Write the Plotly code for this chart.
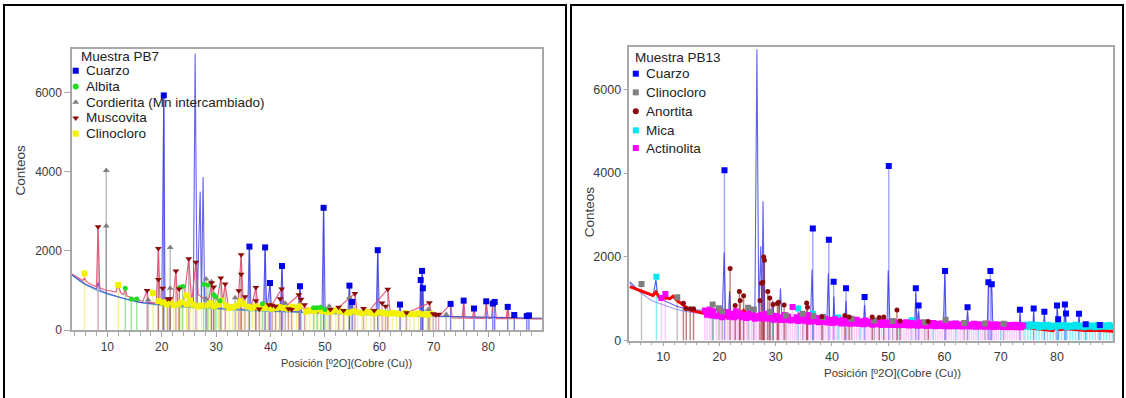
import plotly.graph_objects as go

W, H = 1126, 398

# ---------------- Muestra PB7 ----------------
pb7_cuarzo_x = [20.37, 36.11, 39.0, 39.9, 42.1, 45.4, 49.75, 54.5, 55.0, 59.7, 63.8, 67.6, 67.85, 68.0,
                73.1, 75.5, 77.4, 79.65, 80.85, 81.2, 83.6, 84.8, 87.1, 87.5]
pb7_cuarzo_y = [5930, 2110, 2090, 1190, 1620, 1108, 3090, 1124, 711, 2020, 645, 1265, 1496, 1058,
                662, 744, 545, 727, 670, 711, 587, 380, 356, 372]

pb7_albita_x = [13.3, 14.4, 15.4, 23.25, 23.85, 27.7, 28.5, 29.55, 29.95, 30.7, 38.5, 47.9, 48.55, 49.2, 50.0]
pb7_albita_y = [1060, 786, 786, 1075, 1100, 1157, 1141, 893, 843, 744, 666, 562, 562, 579, 521]

pb7_cordierita_x = [9.8, 9.8, 17.5, 21.55, 21.55, 28.15, 28.15, 29.15, 33.5, 42.7, 50.8, 54.5, 69.0, 72.3]
pb7_cordierita_y = [4030, 2630, 760, 2090, 1058, 1290, 786, 1223, 820, 680, 605, 826, 521, 397]

pb7_muscovita_x = [8.3, 17.3, 19.38, 19.38, 20.17, 21.1, 21.5, 22.6, 23.2, 24.96, 26.27, 29.15, 29.55,
                   30.86, 31.65, 34.15, 34.6, 34.6, 35.3, 37.3, 37.3, 37.9, 39.7, 40.3, 40.9, 41.75,
                   42.05, 43.3, 43.85, 45.2, 45.6, 46.25, 51.0, 52.5, 53.4, 55.5, 57.1, 59.05, 60.5,
                   61.15, 61.55, 65.0, 69.2, 69.9, 70.4, 70.9]
pb7_muscovita_y = [2610, 1000, 2060, 1281, 1058, 790, 790, 1496, 1041, 1800, 1715, 1199, 1091,
                   1315, 1162, 992, 1905, 1410, 843, 1079, 744, 530, 640, 630, 604, 793,
                   1041, 537, 521, 893, 780, 640, 521, 579, 496, 926, 545, 496, 686,
                   604, 1033, 438, 694, 410, 390, 400]

pb7_clinocloro_x = [5.8, 12.0, 18.4, 19.4, 20.2, 20.9, 21.5, 22.2, 23.0, 23.6, 24.6, 24.6, 25.2, 25.8,
                    26.6, 27.3, 28.4, 29.0, 29.6, 30.4, 31.0, 31.8, 32.4, 33.05, 33.8, 34.4, 35.0,
                    35.9, 36.6, 37.2, 38.0, 38.8, 39.4, 40.2, 41.0, 41.6, 42.4, 43.2, 44.0, 44.8,
                    45.3, 46.5, 47.2, 48.0, 48.7, 49.4, 50.4, 51.2, 52.0, 52.7, 53.6, 54.4, 55.2,
                    56.0, 56.8, 57.6, 58.4, 59.2, 60.0, 60.8, 61.6, 62.4, 63.2, 64.0, 64.8, 65.6,
                    66.4, 67.2, 68.0, 68.8, 69.4]
pb7_clinocloro_y = [1430, 1140, 935, 730, 700, 650, 700, 630, 650, 700, 875, 650, 745, 640,
                    600, 620, 620, 680, 600, 650, 745, 620, 560, 580, 620, 730, 660,
                    590, 560, 600, 570, 560, 600, 540, 560, 580, 560, 540, 590, 560,
                    600, 465, 500, 480, 520, 480, 460, 470, 500, 480, 460, 440, 470,
                    450, 430, 460, 440, 420, 450, 430, 410, 430, 420, 400, 430, 410,
                    400, 420, 400, 390, 410]

# profile (calculated), measured scan and background of PB7
pb7_calc_x = [3.5, 4.5, 5.5, 5.8, 6.1, 7.0, 8.0, 8.3, 8.6, 9.5, 10.5, 11.6, 12.0, 12.4, 13.0, 13.3,
              13.6, 15.0, 16.5, 17.3, 17.6, 19.0, 19.38, 19.7, 20.2, 21.0, 22.0, 22.6, 22.9, 24.0,
              24.96, 25.5, 26.27, 26.7, 27.5, 28.2, 28.7, 29.15, 29.6, 30.2, 30.86, 31.2, 31.65,
              32.2, 34.0, 34.6, 35.0, 36.5, 37.3, 37.7, 40.0, 42.05, 42.5, 45.2, 45.6, 48.0, 52.0,
              55.5, 55.9, 58.0, 61.55, 62.0, 65.0, 69.2, 69.6, 71.0, 73.1, 73.4, 75.2, 75.5, 75.8,
              77.1, 77.4, 77.7, 79.4, 79.65, 80.0, 80.6, 80.85, 81.2, 81.5, 83.3, 83.6, 83.9, 84.6,
              84.8, 85.1, 86.8, 87.1, 87.5, 87.8, 90.0]
pb7_calc_y = [1420, 1330, 1250, 1320, 1230, 1150, 1100, 2610, 1070, 1020, 990, 960, 1180, 950, 900, 1060,
              860, 790, 720, 1000, 700, 680, 2060, 700, 760, 720, 690, 1496, 720, 700,
              1800, 700, 1715, 900, 820, 780, 800, 1199, 850, 760, 1315, 720, 1162,
              640, 620, 1905, 640, 600, 1079, 600, 580, 1041, 560, 893, 560, 540, 510,
              926, 490, 470, 1033, 450, 430, 686, 400, 340, 662, 310, 300, 744, 300,
              298, 545, 296, 295, 727, 294, 293, 670, 711, 292, 291, 587, 290, 289,
              380, 288, 287, 356, 372, 285, 280]

pb7_meas_x = [3.5, 6.0, 8.0, 8.3, 8.7, 10.0, 13.0, 16.0, 20.0, 20.37, 20.6, 25.8, 26.14, 26.5, 27.06,
              27.3, 27.6, 27.9, 30.0, 35.8, 36.11, 36.4, 38.7, 39.0, 39.3, 39.9, 40.2, 41.8, 42.1,
              42.4, 45.1, 45.4, 45.7, 49.45, 49.75, 50.05, 54.2, 54.5, 54.75, 55.0, 55.3, 59.4, 59.7,
              60.0, 63.6, 63.8, 64.0, 67.4, 67.6, 67.75, 67.85, 68.0, 68.2, 90.0]
pb7_meas_y = [1390, 1160, 1040, 1200, 1000, 930, 800, 700, 640, 5930, 640, 600, 6990, 620, 3500,
              650, 3870, 600, 560, 520, 2110, 510, 500, 2090, 500, 1190, 490, 480, 1620,
              480, 460, 1108, 455, 430, 3090, 430, 410, 1124, 410, 711, 405, 390, 2020,
              390, 375, 645, 375, 360, 1265, 380, 1496, 1058, 355, 300]

pb7_fondo_x = [3.5, 5, 6.5, 8, 10, 12, 14, 16, 18, 20, 23, 26, 30, 35, 40, 45, 50, 55, 60, 65, 70, 75, 80, 85, 90]
pb7_fondo_y = [1390, 1230, 1110, 1010, 910, 830, 760, 700, 655, 620, 585, 560, 530, 500, 470, 445,
               420, 400, 380, 360, 345, 325, 310, 300, 290]

# ---------------- Muestra PB13 ----------------
pb13_cuarzo_x = [20.9, 36.6, 39.45, 40.3, 42.5, 45.8, 50.1, 54.9, 55.4, 60.1, 64.1, 67.8, 68.15, 68.4,
                 73.4, 75.85, 77.75, 80.0, 80.2, 81.4, 81.6, 83.9, 85.1, 87.6]
pb13_cuarzo_y = [4070, 2675, 2410, 1408, 1253, 1042, 4170, 1253, 838, 1659, 798, 1394, 1659, 1347,
                 737, 767, 690, 838, 509, 861, 650, 643, 392, 375]

pb13_clinocloro_x = [6.15, 12.5, 18.8, 19.9, 20.5, 25.1, 26.1, 29.0, 31.8, 34.8, 36.7, 38.4, 43.5, 47.5,
                     50.8, 56.5, 60.2, 63.5, 67.2, 70.5]
pb13_clinocloro_y = [1350, 1035, 860, 770, 700, 785, 745, 680, 600, 640, 590, 565, 520, 480,
                     470, 440, 495, 420, 410, 400]

pb13_anortita_x = [13.6, 14.1, 14.8, 15.4, 21.9, 22.8, 23.55, 23.7, 24.3, 27.2, 27.5, 27.7, 27.87, 28.0,
                   28.6, 28.95, 29.55, 30.3, 30.5, 31.5, 35.5, 35.65, 38.2, 42.3, 43.05, 47.15, 48.4,
                   49.2, 51.55, 52.1, 57.1]
pb13_anortita_y = [890, 767, 760, 760, 1722, 838, 1173, 955, 1072, 955, 1370, 1394, 1994, 1917,
                   1173, 1018, 861, 885, 915, 850, 900, 798, 572, 600, 563, 563, 549,
                   563, 728, 470, 455]

pb13_mica_x = [8.8, 18.9, 29.45, 34.0, 36.6, 41.1, 45.0, 51.7, 54.15, 58.0, 62.0, 66.0, 70.0,
               74.3, 74.8, 75.3, 75.8, 76.3, 76.8, 77.3, 77.8, 78.3, 78.8, 79.3, 79.8, 80.3, 80.8,
               81.3, 81.8, 82.3, 82.8, 83.3, 83.8, 84.3, 84.8, 85.3, 85.8, 86.3, 86.8, 87.3, 87.8,
               88.3, 88.8, 89.3, 89.8]
pb13_mica_y = [1525, 665, 590, 765, 640, 550, 450, 400, 485, 420, 400, 390, 380,
               380, 330, 390, 340, 380, 320, 370, 330, 380, 320, 360, 330, 380, 340,
               370, 320, 360, 330, 380, 330, 360, 320, 370, 330, 360, 320, 370, 330,
               360, 330, 370, 340]

# actinolite reflections: upper row of the band and the lower row beneath it
pb13_actinolita_x = [9.7, 10.4, 17.4, 18.3, 18.9, 20.1, 21.0, 21.4, 22.3, 22.9, 23.6, 24.4, 25.3, 26.0,
                     26.6, 27.4, 28.4, 29.2, 30.1, 30.7, 31.5, 32.2, 33.0, 33.7, 34.4, 35.1, 35.8,
                     36.5, 37.3, 38.0, 38.8, 39.7, 40.5, 41.3, 42.0, 42.8, 43.6, 44.4, 45.2, 46.0,
                     46.8, 47.6, 48.4, 49.2, 50.0, 50.8, 51.6, 52.4, 53.2, 54.0, 54.8, 55.6, 56.4,
                     57.2, 58.0, 58.8, 59.6, 60.4, 61.2, 62.0, 62.8, 63.6, 64.4, 65.2, 66.0, 66.8,
                     67.6, 68.4, 69.2, 70.0, 70.8, 71.6, 72.4, 73.2, 74.0]
pb13_actinolita_y = [1020, 1115, 720, 745, 700, 640, 665, 680, 640, 700, 650, 620, 665, 680,
                     590, 620, 640, 600, 590, 560, 610, 570, 800, 560, 600, 560, 610,
                     520, 540, 500, 520, 490, 510, 470, 500, 480, 470, 500, 460, 480,
                     450, 470, 440, 450, 430, 450, 430, 420, 440, 420, 410, 430, 410,
                     400, 420, 400, 410, 390, 400, 410, 390, 400, 380, 400, 390, 380,
                     400, 380, 390, 370, 380, 370, 380, 370, 360]
pb13_actinolita_low_x = [17.8, 18.6, 19.5, 20.5, 21.7, 22.6, 23.2, 24.0, 24.8, 25.7, 26.3, 27.0, 27.8,
                         28.8, 29.6, 30.4, 31.1, 31.9, 32.6, 33.4, 34.0, 34.8, 35.5, 36.2, 36.9, 37.7,
                         38.4, 39.2, 40.1, 40.9, 41.7, 42.4, 43.2, 44.0, 44.8, 45.6, 46.4, 47.2, 48.0,
                         48.8, 49.6, 50.4, 51.2, 52.0, 52.8, 53.6, 54.4, 55.2, 56.0, 56.8, 57.6, 58.4,
                         59.2, 60.0, 60.8, 61.6, 62.4, 63.2, 64.0, 64.8, 65.6, 66.4, 67.2, 68.0, 68.8,
                         69.6, 70.4, 71.2, 72.0, 72.8, 73.6]
pb13_actinolita_low_y = [620, 600, 580, 560, 570, 560, 590, 560, 540, 560, 520, 540, 530,
                         520, 500, 510, 490, 500, 480, 490, 470, 480, 460, 450, 460, 440,
                         450, 430, 420, 430, 410, 420, 400, 410, 400, 390, 400, 380, 390,
                         375, 380, 370, 375, 365, 370, 360, 365, 355, 360, 350, 355, 345,
                         350, 345, 340, 345, 340, 335, 340, 335, 330, 335, 330, 330, 325,
                         330, 325, 320, 325, 320, 320]

pb13_calc_x = [4.05, 5.0, 5.8, 6.7, 7.6, 8.2, 8.7, 9.3, 10.2, 11.2, 11.75, 12.65, 13.5, 14.2, 15.0,
               16.3, 17.7, 19.0, 20.1, 21.2, 22.4, 23.0, 23.6, 24.3, 24.8, 26.0, 30.0, 35.0, 40.0,
               45.0, 50.0, 55.0, 60.0, 65.0, 70.0, 74.0, 76.0, 78.0, 79.3, 80.1, 80.5, 81.7, 83.0,
               85.0, 87.0, 88.5, 90.0]
pb13_calc_y = [1290, 1240, 1190, 1140, 1096, 1080, 1160, 1040, 1020, 1000, 1060, 940, 860, 780, 720,
               680, 630, 600, 590, 570, 550, 570, 630, 720, 630, 600, 560, 510, 470,
               440, 420, 400, 380, 360, 340, 310, 290, 250, 240, 400, 260, 280, 260,
               240, 250, 230, 220]

pb13_meas_x = [4.05, 5.8, 8.2, 8.7, 9.1, 10.5, 12.4, 14.0, 17.1, 20.1, 20.5, 20.85, 21.1, 21.6, 21.8,
               22.0, 26.3, 26.66, 27.0, 27.35, 27.55, 27.75, 28.0, 29.2, 29.45, 29.7, 30.6, 30.85,
               31.1, 36.2, 36.45, 36.7, 39.1, 39.35, 39.6, 40.2, 40.35, 40.5, 42.3, 42.5, 42.7,
               45.6, 45.8, 46.0, 49.8, 50.0, 50.3, 54.7, 54.9, 55.1, 55.4, 55.6, 59.8, 60.05,
               60.3, 63.9, 64.1, 64.3, 67.6, 67.85, 68.1, 68.4, 68.6, 73.3, 73.45, 73.6, 75.7,
               75.85, 76.0, 77.6, 77.75, 77.9, 79.9, 80.05, 80.3, 81.2, 81.4, 81.6, 83.7, 83.9,
               84.1, 90.0]
pb13_meas_y = [1410, 1175, 1060, 1450, 1020, 930, 820, 760, 720, 630, 620, 2110, 610, 600, 1180,
               600, 580, 6960, 600, 2250, 700, 3330, 580, 560, 955, 560, 550, 1250,
               550, 510, 1700, 510, 490, 1600, 490, 480, 1050, 480, 470, 950, 470,
               450, 850, 450, 430, 1680, 430, 410, 1150, 410, 700, 405, 390, 1600,
               390, 380, 700, 380, 370, 1400, 1450, 1200, 370, 350, 650, 350, 340,
               700, 340, 330, 620, 330, 320, 780, 320, 315, 800, 315, 310, 600,
               310, 300]

pb13_fondo_x = [4, 6, 8, 10, 12, 14, 17, 20, 25, 30, 40, 50, 60, 70, 80, 90]
pb13_fondo_y = [1380, 1140, 950, 850, 760, 700, 640, 600, 560, 525, 470, 425, 390, 360, 335, 315]

# ---------------- styling ----------------
FONT = "Liberation Sans, Arial, sans-serif"
AXIS_GRAY = "#a8a8a8"
TXT = "#3a3a3a"


def stick_xy(xs, ys):
    sx, sy = [], []
    for x, y in zip(xs, ys):
        sx += [x, x, None]
        sy += [0, y, None]
    return sx, sy


fig = go.Figure()


def add_sticks(xs, ys, color, xa, ya, width=1.4):
    sx, sy = stick_xy(xs, ys)
    fig.add_trace(go.Scatter(x=sx, y=sy, mode="lines", xaxis=xa, yaxis=ya,
                             line=dict(color=color, width=width), hoverinfo="skip"))


def add_line(xs, ys, color, width, xa, ya):
    fig.add_trace(go.Scatter(x=xs, y=ys, mode="lines", xaxis=xa, yaxis=ya,
                             line=dict(color=color, width=width), hoverinfo="skip"))


def add_marks(xs, ys, color, symbol, size, xa, ya):
    fig.add_trace(go.Scatter(x=xs, y=ys, mode="markers", xaxis=xa, yaxis=ya,
                             marker=dict(color=color, symbol=symbol, size=size, line=dict(width=0))))


# PB7 panel
add_sticks(pb7_clinocloro_x, pb7_clinocloro_y, "rgba(225,225,40,0.45)", "x", "y")
add_sticks(pb7_albita_x, pb7_albita_y, "rgba(60,200,60,0.5)", "x", "y")
add_sticks(pb7_cordierita_x, pb7_cordierita_y, "rgba(120,120,120,0.5)", "x", "y")
add_sticks(pb7_muscovita_x, pb7_muscovita_y, "rgba(170,60,80,0.45)", "x", "y")
add_sticks(pb7_cuarzo_x, pb7_cuarzo_y, "rgba(40,40,230,0.6)", "x", "y")
add_line(pb7_fondo_x, pb7_fondo_y, "rgba(80,170,190,0.85)", 1.2, "x", "y")
add_line(pb7_meas_x, pb7_meas_y, "rgba(50,50,220,0.75)", 1.1, "x", "y")
add_line(pb7_calc_x, pb7_calc_y, "rgba(225,70,110,0.85)", 1.2, "x", "y")
add_marks(pb7_clinocloro_x, pb7_clinocloro_y, "#f2f200", "square", 6, "x", "y")
add_marks(pb7_albita_x, pb7_albita_y, "#22dd22", "circle", 5, "x", "y")
add_marks(pb7_cordierita_x, pb7_cordierita_y, "#808080", "triangle-up", 6, "x", "y")
add_marks(pb7_muscovita_x, pb7_muscovita_y, "#8b0a0a", "triangle-down", 6, "x", "y")
add_marks(pb7_cuarzo_x, pb7_cuarzo_y, "#0000e6", "square", 6, "x", "y")

# PB13 panel
act_x = pb13_actinolita_x + pb13_actinolita_low_x
act_y = pb13_actinolita_y + pb13_actinolita_low_y
add_sticks(act_x, act_y, "rgba(255,80,255,0.3)", "x2", "y2")
add_sticks(pb13_mica_x, pb13_mica_y, "rgba(0,220,235,0.45)", "x2", "y2")
add_sticks(pb13_clinocloro_x, pb13_clinocloro_y, "rgba(128,128,128,0.5)", "x2", "y2")
add_sticks(pb13_anortita_x, pb13_anortita_y, "rgba(140,20,20,0.55)", "x2", "y2")
add_sticks(pb13_cuarzo_x, pb13_cuarzo_y, "rgba(90,90,255,0.55)", "x2", "y2")
add_line(pb13_fondo_x, pb13_fondo_y, "rgba(120,120,235,0.7)", 1.2, "x2", "y2")
add_line(pb13_meas_x, pb13_meas_y, "rgba(30,30,225,0.7)", 1.1, "x2", "y2")
add_line(pb13_calc_x, pb13_calc_y, "#ff0000", 3, "x2", "y2")
add_marks(pb13_mica_x, pb13_mica_y, "#00e5ee", "square", 6, "x2", "y2")
add_marks(act_x, act_y, "#ff00ff", "square", 6, "x2", "y2")
add_marks(pb13_clinocloro_x, pb13_clinocloro_y, "#808080", "square", 6, "x2", "y2")
add_marks(pb13_anortita_x, pb13_anortita_y, "#8b0a0a", "circle", 5, "x2", "y2")
add_marks(pb13_cuarzo_x, pb13_cuarzo_y, "#0000ff", "square", 6, "x2", "y2")

# legend keys, placed on a page-sized overlay axis measured in pixels
legend_sets = [
    dict(title="Muestra PB7", tx=78.5, ty=58, kx=75.7, lx=84,
         names=["Cuarzo", "Albita", "Cordierita (Mn intercambiado)", "Muscovita", "Clinocloro"],
         colors=["#0000e6", "#22dd22", "#808080", "#8b0a0a", "#f2f200"],
         symbols=["square", "circle", "triangle-up", "triangle-down", "square"],
         rows=[72, 88, 104, 120, 136]),
    dict(title="Muestra PB13", tx=633, ty=59, kx=635.8, lx=643.5,
         names=["Cuarzo", "Clinocloro", "Anortita", "Mica", "Actinolita"],
         colors=["#0000ff", "#808080", "#8b0a0a", "#00e5ee", "#ff00ff"],
         symbols=["square", "square", "circle", "square", "square"],
         rows=[75, 94, 113.3, 132.7, 150.7]),
]

annotations = []
for lg in legend_sets:
    fig.add_trace(go.Scatter(x=[lg["kx"]] * len(lg["rows"]), y=lg["rows"], mode="markers",
                             xaxis="x3", yaxis="y3",
                             marker=dict(color=lg["colors"], symbol=lg["symbols"], size=6,
                                         line=dict(width=0))))
    annotations.append(dict(text=lg["title"], x=lg["tx"] / W, y=1 - lg["ty"] / H, xref="paper",
                            yref="paper", xanchor="left", yanchor="middle", showarrow=False,
                            font=dict(family=FONT, size=13.5, color="#222222")))
    for name, row in zip(lg["names"], lg["rows"]):
        annotations.append(dict(text=name, x=lg["lx"] / W, y=1 - row / H, xref="paper", yref="paper",
                                xanchor="left", yanchor="middle", showarrow=False,
                                font=dict(family=FONT, size=13.5, color="#222222")))

# axis titles
for txt, px, py in [("Conteos", 20.5, 173), ("Conteos", 589, 216)]:
    annotations.append(dict(text=txt, x=px / W, y=1 - py / H, xref="paper", yref="paper",
                            textangle=-90, showarrow=False, xanchor="center", yanchor="middle",
                            font=dict(family=FONT, size=13.5, color=TXT)))
for px, py, fs in [(346.4, 369, 11), (892.4, 380, 11.5)]:
    annotations.append(dict(text="Posición [º2O](Cobre (Cu))", x=px / W, y=1 - py / H, xref="paper",
                            yref="paper", showarrow=False, xanchor="center", yanchor="middle",
                            font=dict(family=FONT, size=fs, color=TXT)))

# outer frames around each panel
shapes = [
    dict(type="rect", xref="paper", yref="paper", x0=4 / W, x1=566 / W, y0=-0.05, y1=1 - 5 / H,
         line=dict(color="black", width=2), fillcolor="rgba(0,0,0,0)"),
    dict(type="rect", xref="paper", yref="paper", x0=571 / W, x1=1123 / W, y0=-0.05, y1=1 - 5 / H,
         line=dict(color="black", width=2), fillcolor="rgba(0,0,0,0)"),
]


def xaxis_style(domain, rng, ticklen, fs):
    return dict(domain=domain, range=rng, showgrid=False, zeroline=False, showline=True,
                linecolor=AXIS_GRAY, linewidth=1.5, mirror=True, ticks="outside", ticklen=ticklen,
                tickcolor=AXIS_GRAY, tickwidth=1, tick0=0, dtick=10,
                minor=dict(dtick=2, ticks="outside", ticklen=ticklen - 1, tickcolor=AXIS_GRAY),
                tickfont=dict(family=FONT, size=fs, color=TXT), fixedrange=True)


def yaxis_style(domain, rng, ticklen, fs):
    return dict(domain=domain, range=rng, showgrid=False, zeroline=False, showline=True,
                linecolor=AXIS_GRAY, linewidth=1.5, mirror=True, ticks="outside", ticklen=ticklen,
                tickcolor=AXIS_GRAY, tickwidth=1, tick0=0, dtick=2000,
                tickfont=dict(family=FONT, size=fs, color=TXT), fixedrange=True)


fig.update_layout(
    width=W, height=H, margin=dict(l=0, r=0, t=0, b=0),
    paper_bgcolor="white", plot_bgcolor="rgba(0,0,0,0)", showlegend=False,
    xaxis=dict(xaxis_style([72 / W, 542 / W], [3.5, 89.9], 5, 12), anchor="y"),
    yaxis=dict(yaxis_style([(H - 336) / H, (H - 50) / H], [0, 7100], 6, 12), anchor="x"),
    xaxis2=dict(xaxis_style([629.4 / W, 1113 / W], [4, 89.95], 4, 12.5), anchor="y2"),
    yaxis2=dict(yaxis_style([(H - 346.7) / H, (H - 48.3) / H], [0, 7000], 4, 12.5), anchor="x2"),
    xaxis3=dict(domain=[0, 1], range=[0, W], visible=False, fixedrange=True, anchor="y3"),
    yaxis3=dict(domain=[0, 1], range=[H, 0], visible=False, fixedrange=True, anchor="x3"),
    annotations=annotations, shapes=shapes,
)

fig.write_html("out.html")
